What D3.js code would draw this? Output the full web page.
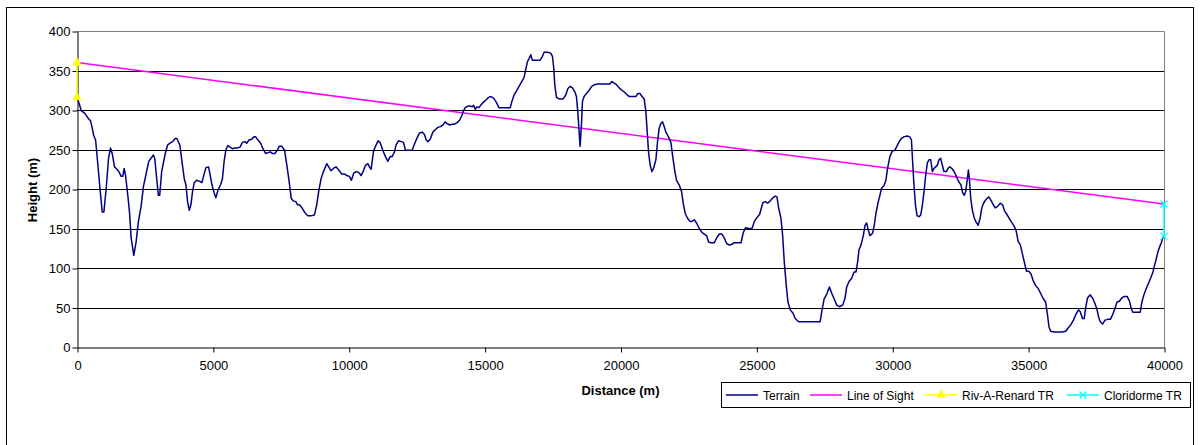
<!DOCTYPE html>
<html>
<head>
<meta charset="utf-8">
<script src="https://cdn.jsdelivr.net/npm/d3@7"></script>
<style>
  body { margin: 0; background: #fff; }
  svg { display: block; font-family: "Liberation Sans", Arial, sans-serif; }
</style>
</head>
<body>
<div id="chart"></div>
<script>

// terrain profile: [distance m, height m]
var terrain = [
  [0,316],[98,306],[159,299],[281,296],[403,290],[501,286],[562,277],[611,268],[684,262],[770,230],
  [855,197],[929,171],[990,171],[1075,201],[1161,239],[1234,252],[1295,245],[1381,228],[1466,225],[1540,222],
  [1625,216],[1686,216],[1735,226],[1784,218],[1870,192],[1931,171],[1992,138],[2090,116],[2175,133],[2261,159],
  [2358,178],[2444,203],[2542,219],[2640,235],[2725,239],[2811,243],[2860,239],[2933,213],[2994,192],[3043,192],
  [3116,222],[3190,235],[3251,245],[3336,256],[3422,258],[3520,260],[3617,264],[3678,264],[3788,255],[3862,235],
  [3947,213],[4008,205],[4069,184],[4130,173],[4191,180],[4253,197],[4314,208],[4399,211],[4497,210],[4595,208],
  [4656,216],[4742,227],[4839,228],[4888,220],[4962,206],[5047,195],[5108,189],[5194,199],[5291,206],[5352,213],
  [5414,235],[5475,249],[5548,255],[5634,253],[5719,251],[5805,252],[5902,252],[6000,253],[6086,259],[6171,260],
  [6244,258],[6330,262],[6428,263],[6513,266],[6574,266],[6660,262],[6758,258],[6843,251],[6941,245],[7027,246],
  [7112,247],[7185,245],[7283,245],[7369,249],[7443,254],[7540,254],[7638,249],[7723,230],[7809,209],[7883,188],
  [7956,185],[8054,184],[8115,180],[8183,180],[8281,176],[8367,171],[8490,166],[8612,166],[8735,167],[8821,180],
  [8895,197],[8981,213],[9067,222],[9190,232],[9263,228],[9349,223],[9435,226],[9533,228],[9632,224],[9742,219],
  [9840,219],[9926,217],[10025,216],[10098,211],[10184,220],[10270,222],[10368,221],[10454,217],[10540,223],[10614,230],
  [10700,232],[10761,228],[10823,225],[10909,247],[10982,254],[11081,261],[11154,259],[11253,249],[11351,241],[11437,235],
  [11523,241],[11596,241],[11682,247],[11744,256],[11830,261],[11928,260],[12014,259],[12088,249],[12174,249],[12260,249],
  [12333,249],[12419,257],[12518,265],[12604,271],[12702,272],[12788,269],[12850,262],[12911,260],[12997,263],[13095,272],
  [13181,275],[13279,278],[13365,279],[13463,281],[13549,285],[13611,283],[13709,281],[13795,282],[13893,282],[13991,284],
  [14077,287],[14163,293],[14224,299],[14286,303],[14384,305],[14470,305],[14544,304],[14593,306],[14654,301],[14716,304],
  [14789,303],[14875,307],[14961,310],[15059,313],[15145,316],[15231,317],[15330,315],[15428,310],[15526,303],[15674,303],
  [15821,303],[15944,303],[15997,310],[16083,319],[16169,324],[16267,330],[16365,336],[16451,341],[16513,351],[16574,361],
  [16635,365],[16697,370],[16758,363],[16881,363],[17041,363],[17127,368],[17188,373],[17311,373],[17434,372],[17495,368],
  [17544,353],[17581,332],[17643,316],[17741,314],[17888,314],[17986,319],[18060,327],[18146,330],[18232,328],[18318,323],
  [18379,317],[18428,298],[18477,273],[18514,254],[18563,281],[18600,311],[18662,317],[18748,321],[18846,325],[18944,330],
  [19042,332],[19153,333],[19337,333],[19521,333],[19607,333],[19681,336],[19767,334],[19853,332],[19951,328],[20049,325],
  [20135,323],[20221,320],[20319,317],[20442,317],[20565,317],[20639,321],[20712,321],[20774,318],[20872,314],[20933,298],
  [20982,273],[21031,247],[21093,230],[21154,222],[21215,226],[21302,237],[21363,260],[21424,277],[21486,283],[21547,285],
  [21608,279],[21670,272],[21768,266],[21854,259],[21915,243],[22001,222],[22063,211],[22161,205],[22247,197],[22308,182],
  [22382,169],[22468,163],[22554,159],[22628,159],[22714,161],[22800,157],[22898,150],[22996,145],[23082,143],[23168,141],
  [23242,133],[23328,132],[23451,132],[23537,138],[23635,143],[23733,143],[23819,138],[23905,131],[24003,129],[24102,130],
  [24188,132],[24310,132],[24438,132],[24511,144],[24597,151],[24719,150],[24841,150],[24927,159],[25024,164],[25122,168],
  [25183,176],[25244,183],[25330,184],[25415,182],[25513,185],[25611,189],[25697,191],[25758,190],[25819,176],[25904,163],
  [25965,142],[26026,108],[26100,78],[26161,57],[26246,47],[26344,43],[26430,36],[26552,32],[26735,32],[26980,32],
  [27248,32],[27346,32],[27407,45],[27493,61],[27591,67],[27688,76],[27774,68],[27860,61],[27957,53],[28055,51],
  [28177,53],[28263,62],[28324,76],[28409,83],[28507,87],[28593,95],[28666,95],[28727,108],[28776,123],[28849,129],
  [28935,141],[28996,154],[29057,157],[29118,148],[29179,141],[29277,144],[29338,154],[29399,169],[29485,184],[29546,192],
  [29607,201],[29693,204],[29766,211],[29827,226],[29913,241],[29998,248],[30096,249],[30181,255],[30255,260],[30340,264],
  [30426,266],[30548,267],[30646,266],[30707,262],[30743,239],[30792,209],[30853,180],[30914,166],[30988,165],[31049,167],
  [31110,180],[31171,197],[31232,218],[31293,233],[31354,237],[31415,237],[31476,222],[31537,226],[31598,228],[31660,230],
  [31721,237],[31782,239],[31843,230],[31904,222],[31990,222],[32075,227],[32123,228],[32222,225],[32308,220],[32394,213],
  [32468,208],[32530,205],[32592,195],[32654,192],[32703,197],[32765,213],[32802,224],[32839,213],[32888,188],[32950,173],
  [33012,164],[33086,158],[33160,154],[33234,163],[33296,176],[33357,182],[33456,187],[33555,190],[33629,186],[33703,181],
  [33790,176],[33876,178],[33975,182],[34061,180],[34123,173],[34197,169],[34284,164],[34370,159],[34469,154],[34555,148],
  [34630,134],[34716,129],[34802,116],[34864,107],[34938,96],[35025,96],[35111,92],[35185,84],[35272,78],[35371,74],
  [35457,68],[35543,62],[35642,57],[35704,43],[35766,26],[35827,20],[35951,19],[36074,19],[36260,19],[36383,20],
  [36470,24],[36568,28],[36667,34],[36754,41],[36853,47],[36914,45],[37001,36],[37062,36],[37124,51],[37186,62],
  [37285,66],[37371,62],[37458,55],[37532,48],[37593,38],[37655,32],[37742,29],[37828,34],[37927,35],[38026,35],
  [38112,41],[38199,49],[38273,57],[38359,58],[38446,62],[38545,64],[38643,64],[38730,58],[38791,49],[38853,44],
  [38977,44],[39125,44],[39187,57],[39261,66],[39347,74],[39434,81],[39508,87],[39594,95],[39656,104],[39718,112],
  [39780,121],[39854,128],[39903,132],[39952,138],[40000,141]
];

var lineOfSight = [[0,360],[40000,181]];
var rivARenard = [[0,316],[0,360]];
var cloridorme = [[40000,140],[40000,181]];

var xTicks = [0,5000,10000,15000,20000,25000,30000,35000,40000];
var yTicks = [0,50,100,150,200,250,300,350,400];

var seriesNames = ["Terrain","Line of Sight","Riv-A-Renard TR","Cloridorme TR"];
var seriesColors = ["#000080","#ff00ff","#ffff00","#00ffff"];

var W = 1201, H = 445;
var plotLeft = 77, plotRight = 1164, plotTop = 31, plotBottom = 347;

var svg = d3.select("#chart").append("svg")
  .attr("width", W).attr("height", H);

// chart area border
svg.append("rect")
  .attr("x", 6.5).attr("y", 7.5)
  .attr("width", 1187).attr("height", 460)
  .attr("fill", "#fff").attr("stroke", "#000");

var x = d3.scaleLinear().domain([0, 40000]).range([plotLeft, plotRight]);
var y = d3.scaleLinear().domain([0, 400]).range([plotBottom, plotTop]);

// gridlines
svg.append("g").selectAll("line")
  .data(yTicks.filter(d => d > 0 && d < 400))
  .join("line")
  .attr("x1", plotLeft).attr("x2", plotRight)
  .attr("y1", d => Math.round(y(d)) + 0.5)
  .attr("y2", d => Math.round(y(d)) + 0.5)
  .attr("stroke", "#000").attr("stroke-width", 1);

// plot area border (top, right)
svg.append("path")
  .attr("d", `M${plotLeft},${plotTop + 0.5}H${plotRight + 0.5}V${plotBottom}`)
  .attr("fill", "none").attr("stroke", "#808080");

// axes
var yAxis = svg.append("g")
  .attr("transform", `translate(${plotLeft + 0.5},0.5)`)
  .call(d3.axisLeft(y).tickValues(yTicks).tickSize(5).tickPadding(2).tickSizeOuter(0));
var xAxis = svg.append("g")
  .attr("transform", `translate(0.5,${plotBottom + 0.5})`)
  .call(d3.axisBottom(x).tickValues(xTicks).tickFormat(d3.format("d")).tickSize(5).tickPadding(8).tickSizeOuter(0));

[xAxis, yAxis].forEach(function(a){
  a.selectAll("path,line").attr("stroke", "#000");
  a.selectAll("text")
    .attr("fill", "#000")
    .style("font-size", "13px")
    .style("font-family", '"Liberation Sans", Arial, sans-serif');
});

// axis titles
svg.append("text")
  .attr("x", (plotLeft + plotRight) / 2).attr("y", 395)
  .attr("text-anchor", "middle")
  .style("font-size", "13px").style("font-weight", "bold")
  .text("Distance (m)");

svg.append("text")
  .attr("transform", "translate(37,190) rotate(-90)")
  .attr("text-anchor", "middle")
  .style("font-size", "13px").style("font-weight", "bold")
  .text("Height (m)");

var line = d3.line().x(d => x(d[0])).y(d => y(d[1]));

svg.append("path").datum(lineOfSight)
  .attr("d", line).attr("fill", "none")
  .attr("stroke", seriesColors[1]).attr("stroke-width", 1.5);

svg.append("path").datum(terrain)
  .attr("d", line).attr("fill", "none")
  .attr("stroke", seriesColors[0]).attr("stroke-width", 1.5)
  .attr("stroke-linejoin", "round");

var triangle = d3.symbol().type(d3.symbolTriangle).size(40);

svg.append("path").datum(rivARenard)
  .attr("d", line).attr("fill", "none")
  .attr("stroke", seriesColors[2]).attr("stroke-width", 1.5);
svg.append("g").selectAll("path")
  .data(rivARenard).join("path")
  .attr("transform", d => `translate(${x(d[0])},${y(d[1])})`)
  .attr("d", triangle)
  .attr("fill", seriesColors[2]);

function cross(g, cx, cy, r){
  g.append("path")
    .attr("d", `M${cx - r},${cy - r}L${cx + r},${cy + r}M${cx - r},${cy + r}L${cx + r},${cy - r}`)
    .attr("stroke", seriesColors[3]).attr("stroke-width", 1.2).attr("fill", "none");
}

svg.append("path").datum(cloridorme)
  .attr("d", line).attr("fill", "none")
  .attr("stroke", seriesColors[3]).attr("stroke-width", 1.5);
var cg = svg.append("g");
cloridorme.forEach(d => cross(cg, x(d[0]), y(d[1]), 3.5));

// legend
var legend = svg.append("g");
legend.append("rect")
  .attr("x", 721.5).attr("y", 382.5)
  .attr("width", 469).attr("height", 25)
  .attr("fill", "#fff").attr("stroke", "#000");

var legendX = [726, 810, 925, 1067];
var ly = 395;
seriesNames.forEach(function(name, i){
  var lx = legendX[i];
  legend.append("line")
    .attr("x1", lx).attr("x2", lx + 32)
    .attr("y1", ly).attr("y2", ly)
    .attr("stroke", seriesColors[i]).attr("stroke-width", 1.5);
  if(i === 2){
    legend.append("path")
      .attr("transform", `translate(${lx + 16},${ly})`)
      .attr("d", triangle).attr("fill", seriesColors[2]);
  }
  if(i === 3){
    cross(legend, lx + 16, ly, 3.5);
  }
  legend.append("text")
    .attr("x", lx + 37).attr("y", ly + 4.5)
    .style("font-size", "12px")
    .text(name);
});

</script>
</body>
</html>
